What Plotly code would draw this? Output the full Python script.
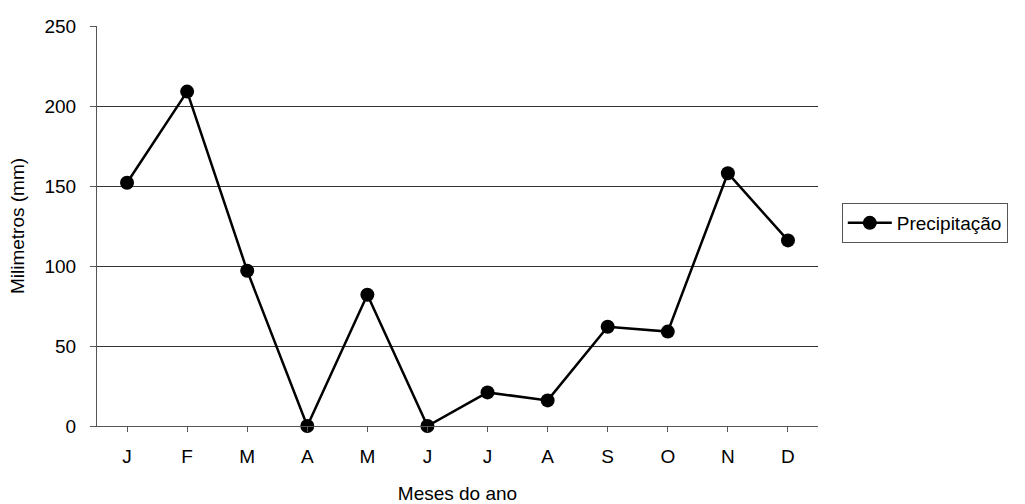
import plotly.graph_objects as go

months = ["J", "F", "M", "A", "M", "J", "J", "A", "S", "O", "N", "D"]
precip = [152, 209, 97, 0, 82, 0, 21, 16, 62, 59, 158, 116]
y_ticks = [0, 50, 100, 150, 200, 250]

x_idx = list(range(len(months)))

fig = go.Figure()
fig.add_trace(go.Scatter(
    x=x_idx, y=precip, mode="lines+markers", name="Precipitação",
    line=dict(color="black", width=2.5),
    marker=dict(color="black", size=14, symbol="circle"),
    cliponaxis=False,
))

fig.update_layout(
    width=1025, height=504,
    margin=dict(l=97, r=207, t=26, b=78),
    paper_bgcolor="white", plot_bgcolor="white",
    font=dict(family="Liberation Sans, Arial, sans-serif", size=19, color="black"),
    showlegend=True,
    legend=dict(
        x=1.033, y=0.5075, xanchor="left", yanchor="middle",
        bordercolor="#555555", borderwidth=1, bgcolor="white",
        font=dict(size=19), itemwidth=44,
    ),
    xaxis=dict(
        range=[-0.5, 11.5], automargin=False,
        tickmode="array", tickvals=x_idx, ticktext=months,
        showgrid=False, zeroline=False,
        showline=True, linecolor="#555555", linewidth=1,
        ticks="outside", ticklen=5, tickcolor="#555555",
        tickson="boundaries", ticklabelstandoff=8,
        title=dict(text="Meses do ano", font=dict(size=19), standoff=22),
    ),
    yaxis=dict(
        range=[0, 250], automargin=False,
        tickmode="array", tickvals=y_ticks,
        showgrid=True, gridcolor="#333333", gridwidth=1,
        zeroline=False,
        showline=True, linecolor="#555555", linewidth=1,
        ticks="outside", ticklen=6, tickcolor="#555555",
        ticklabelstandoff=10,
        title=dict(text="Milimetros (mm)", font=dict(size=19), standoff=14),
    ),
)

fig.write_html("out.html")
